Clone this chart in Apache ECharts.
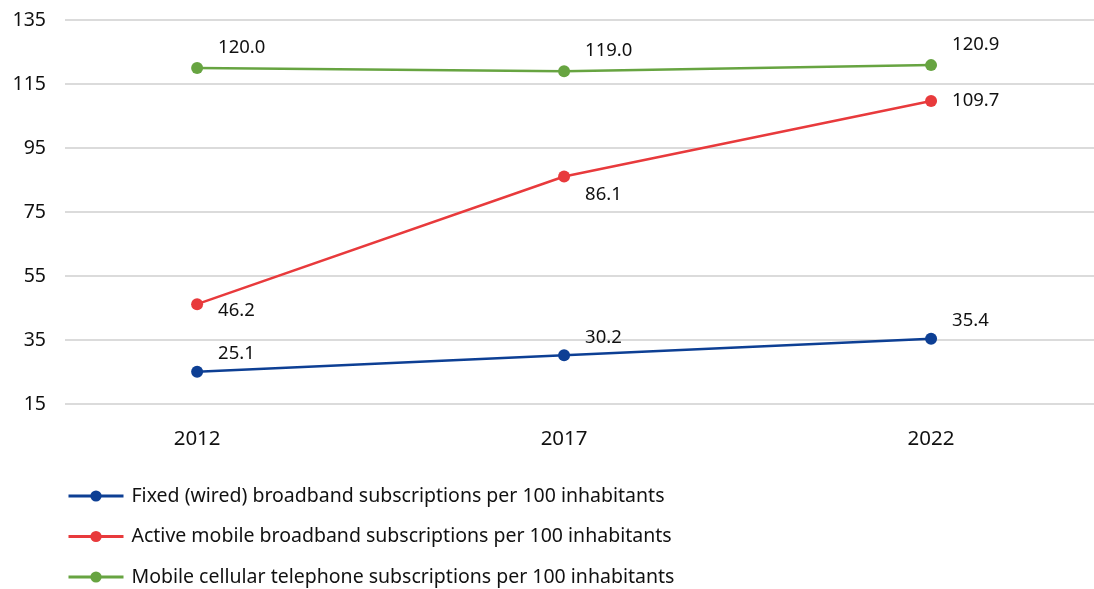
<!DOCTYPE html>
<html>
<head>
<meta charset="utf-8">
<script src="https://cdn.jsdelivr.net/npm/echarts@6/dist/echarts.min.js"></script>
<style>html,body{margin:0;padding:0;background:#fff}#c{width:1094px;height:589px}</style>
</head>
<body>
<div id="c"></div>
<script>
var years = [2012, 2017, 2022];
var fixedBroadband = [25.1, 30.2, 35.4];
var mobileBroadband = [46.2, 86.1, 109.7];
var mobileCellular = [120.0, 119.0, 120.9];
var yTicks = [15, 35, 55, 75, 95, 115, 135];
var seriesNames = [
  'Fixed (wired) broadband subscriptions per 100 inhabitants',
  'Active mobile broadband subscriptions per 100 inhabitants',
  'Mobile cellular telephone subscriptions per 100 inhabitants'
];

var font = '"Noto Sans", sans-serif';
function pts(vals){ return years.map(function(y,i){ return [y, vals[i]]; }); }
var redOffsets = [[0, 7], [0, 18], [0, 0]];
function lbl(off){
  return {show:true, position:'right', distance:15, offset:off, color:'#111', fontSize:18.5, fontFamily:font,
          formatter:function(p){ return p.value[1].toFixed(1); }};
}
var chart = echarts.init(document.getElementById('c'));
chart.setOption({
  animation:false,
  grid:{left:65, right:0, top:20, bottom:185},
  xAxis:{type:'value', min:2010.2, max:2024.22,
    axisLine:{show:false}, axisTick:{show:false}, splitLine:{show:false},
    axisLabel:{customValues:years, margin:25, color:'#111', fontSize:20.5, fontFamily:font,
      formatter:function(v){ return String(v); }}},
  yAxis:{type:'value', min:15, max:135, interval:20,
    axisLine:{show:false}, axisTick:{show:false},
    splitLine:{lineStyle:{color:'#cfcfcf', width:1.5}},
    axisLabel:{margin:19, color:'#111', fontSize:19.5, fontFamily:font}},
  legend:{orient:'vertical', left:62, top:481, height:200, itemWidth:55, itemHeight:14, itemGap:20.5,
    lineStyle:{width:3},
    textStyle:{color:'#111', fontSize:19.5, lineHeight:14, fontFamily:font, padding:[0,0,0,3]},
    data:seriesNames},
  series:[
    {name:seriesNames[0], type:'line', data:pts(fixedBroadband), symbol:'circle', symbolSize:12,
     color:'#0d3f94', lineStyle:{width:2.5}, label:lbl([0,-18])},
    {name:seriesNames[1], type:'line', symbol:'circle', symbolSize:12,
     data:pts(mobileBroadband).map(function(d,i){ return {value:d, label:{offset:redOffsets[i]}}; }),
     color:'#e83a3c', lineStyle:{width:2.5}, label:lbl([0,0])},
    {name:seriesNames[2], type:'line', data:pts(mobileCellular), symbol:'circle', symbolSize:12,
     color:'#67a441', lineStyle:{width:2.5}, label:lbl([0,-20])}
  ]
});
</script>
</body>
</html>
